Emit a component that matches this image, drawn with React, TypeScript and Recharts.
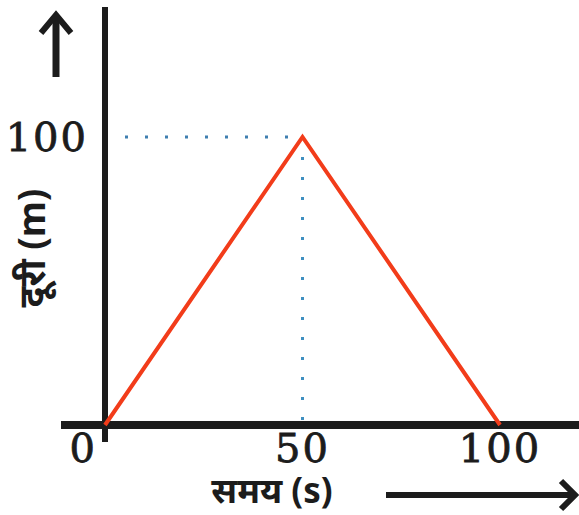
import { LineChart, Line, XAxis, YAxis, ReferenceLine } from "recharts";

// time (s) vs distance (m)
const times = [0, 50, 100];
const distances = [0, 100, 0];
const xTicks = [0, 50, 100];
const yTicks = [100];
const peakTime = 50;
const peakDistance = 100;

const data = times.map((t, i) => ({ time: t, distance: distances[i] }));

const ink = "#1c1c1c";
const serif = "'DejaVu Serif', serif";

const XTick = (props: any) => {
  const { x, y, payload } = props;
  const isZero = payload.value === 0;
  return (
    <text
      x={isZero ? x - 8 : x}
      y={y + 12}
      textAnchor={isZero ? "end" : "middle"}
      fontFamily={serif}
      fontSize={40}
      letterSpacing={2}
      fill={ink}
      stroke={ink}
      strokeWidth={0.8}
    >
      {payload.value}
    </text>
  );
};

const YTick = (props: any) => {
  const { y, payload } = props;
  return (
    <text
      x={88}
      y={y}
      dy="0.36em"
      textAnchor="end"
      fontFamily={serif}
      fontSize={40}
      letterSpacing={2}
      fill={ink}
      stroke={ink}
      strokeWidth={0.8}
    >
      {payload.value}
    </text>
  );
};

const XTitle = () => (
  <g>
    <text
      x={272}
      y={503}
      textAnchor="middle"
      fontFamily="'Noto Sans', sans-serif"
      fontWeight="bold"
      fontSize={35}
      fill={ink}
    >
      समय (s)
    </text>
    <line x1={386} y1={495} x2={575} y2={495} stroke={ink} strokeWidth={6} />
    <polyline
      points="561,481 575,495 561,509"
      fill="none"
      stroke={ink}
      strokeWidth={6}
    />
  </g>
);

const YTitle = () => (
  <g>
    <text
      transform="translate(45,248) rotate(-90)"
      textAnchor="middle"
      fontFamily="'Noto Sans', sans-serif"
      fontWeight="bold"
      fontSize={37}
      fill={ink}
    >
      दूरी (m)
    </text>
    <line x1={56} y1={77} x2={56} y2={16} stroke={ink} strokeWidth={7} />
    <polyline
      points="41,33 56,15 71,33"
      fill="none"
      stroke={ink}
      strokeWidth={6}
    />
  </g>
);

export default function App() {
  return (
    <div style={{ position: "absolute", left: 0, top: 0, background: "#fff" }}>
      <LineChart
        width={579}
        height={515}
        data={data}
        margin={{ top: 7, right: 0, left: 0, bottom: 0 }}
      >
        <XAxis
          dataKey="time"
          type="number"
          domain={[-11.14, 120]}
          allowDataOverflow
          ticks={xTicks}
          tick={XTick}
          axisLine={false}
          tickLine={false}
          height={73}
          label={XTitle}
        />
        <YAxis
          type="number"
          domain={[-5.9, 145.1]}
          allowDataOverflow
          ticks={yTicks}
          tick={YTick}
          axisLine={false}
          tickLine={false}
          width={61}
          label={YTitle}
        />
        <ReferenceLine
          segment={[
            { x: 0, y: peakDistance },
            { x: peakTime, y: peakDistance },
          ]}
          stroke="#3f7fb0"
          strokeWidth={3}
          strokeDasharray="3 17"
        />
        <ReferenceLine
          segment={[
            { x: peakTime, y: peakDistance },
            { x: peakTime, y: 0 },
          ]}
          stroke="#3f8fc0"
          strokeWidth={3}
          strokeDasharray="3 17"
        />
        <ReferenceLine x={0} stroke={ink} strokeWidth={6} />
        <ReferenceLine y={0} stroke={ink} strokeWidth={8} />
        <Line
          dataKey="distance"
          type="linear"
          stroke="#f23c1a"
          strokeWidth={4}
          dot={false}
          isAnimationActive={false}
        />
      </LineChart>
    </div>
  );
}
